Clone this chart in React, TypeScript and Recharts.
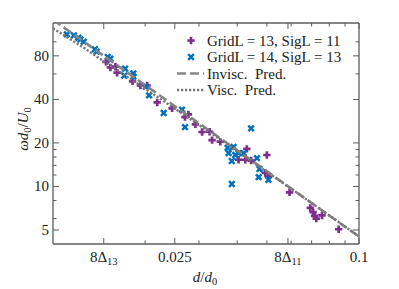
import React from "react";
import { ScatterChart, Scatter, XAxis, YAxis, ReferenceLine } from "recharts";

// GridL = 13, SigL = 11
const coarseD = [0.0149, 0.0154, 0.016, 0.0162, 0.0182, 0.0193, 0.0203, 0.0219, 0.0245, 0.027, 0.0277, 0.0292, 0.0307, 0.0325, 0.0331, 0.0352, 0.043, 0.0404, 0.0425, 0.0444, 0.05, 0.0494, 0.0506, 0.0593, 0.0693, 0.0708, 0.0716, 0.0725, 0.0757, 0.0858];
const coarseW = [72.8, 66.5, 67.3, 61.2, 53.3, 49.9, 49.9, 38.1, 34.7, 30.2, 31.5, 26.9, 23.8, 23.9, 20.9, 20.4, 18.2, 15.3, 15.3, 15.1, 16.5, 12.4, 11.7, 9.1, 7.1, 6.65, 6.25, 6.0, 6.3, 5.06];

// GridL = 14, SigL = 13
const fineD = [0.0111, 0.0117, 0.0121, 0.0123, 0.0126, 0.0137, 0.0139, 0.0151, 0.0154, 0.0172, 0.0171, 0.0183, 0.0183, 0.0201, 0.0206, 0.023, 0.0264, 0.027, 0.0372, 0.0389, 0.0375, 0.0394, 0.0384, 0.0404, 0.042, 0.0444, 0.0464, 0.0473, 0.047, 0.0506, 0.0384];
const fineW = [112.6, 110.9, 106.8, 104.1, 100.2, 88.9, 85.6, 78.7, 76.6, 65.2, 58.4, 60.5, 57.5, 49.1, 42.6, 32.2, 34.0, 25.7, 18.5, 18.8, 17.0, 16.5, 15.0, 17.0, 17.0, 25.2, 15.7, 13.2, 11.6, 11.1, 10.4];

// predictions
const inviscD = [0.01, 0.1];
const inviscW = [142, 4.5];
const viscD = [0.01, 0.0125, 0.015, 0.02, 0.025, 0.03, 0.04, 0.05, 0.06, 0.07, 0.08, 0.1];
const viscW = [124, 92, 71, 47.5, 34.5, 26.6, 17.5, 12.6, 9.65, 7.68, 6.3, 4.52];

// ticks
const xMajorTicks = [0.01465, 0.025, 0.0586, 0.1];
const xLabelMain = ["8Δ", "0.025", "8Δ", "0.1"];
const xLabelSub = ["13", "", "11", ""];
const xMinorTicks = [0.02, 0.03, 0.04, 0.05, 0.06, 0.07, 0.08, 0.09];
const yMajorTicks = [5, 10, 20, 40, 80];
const yMinorTicks = [6, 8, 12, 14, 16, 18, 60, 100];

const PURPLE = "#7E2F8E";
const BLUE = "#0072BD";
const GRAY = "#858585";
const DOT_GRAY = "#777";
const AXIS = "#5c5c5c";
const TEXT = "#222";
const FONT = "'Liberation Serif', 'DejaVu Serif', serif";

const W = 391;
const H = 281;
const PLOT_W = 306;
const PLOT_H = 221;

const toPts = (xs: number[], ys: number[]) => xs.map((x, i) => ({ x, y: ys[i] }));

const coarse = toPts(coarseD, coarseW);
const fine = toPts(fineD, fineW);
const invisc = toPts(inviscD, inviscW);
const visc = toPts(viscD, viscW);

function XTick(props: any) {
  const { x, y, payload } = props;
  const i = xMajorTicks.indexOf(payload.value);
  const len = i >= 0 ? 6 : 3.5;
  const top = y - PLOT_H;
  return (
    <g>
      <line x1={x} x2={x} y1={y} y2={y - len} stroke={AXIS} strokeWidth={1} />
      <line x1={x} x2={x} y1={top} y2={top + len} stroke={AXIS} strokeWidth={1} />
      {i >= 0 && (
        <text x={x} y={y + 18} textAnchor="middle" fontFamily={FONT} fontSize={15} fill={TEXT}>
          {xLabelMain[i]}
          {xLabelSub[i] && (
            <tspan fontSize={10.5} dy={3}>
              {xLabelSub[i]}
            </tspan>
          )}
        </text>
      )}
    </g>
  );
}

function YTick(props: any) {
  const { x, y, payload } = props;
  const major = yMajorTicks.indexOf(payload.value) >= 0;
  const len = major ? 6 : 3.5;
  const right = x + PLOT_W;
  return (
    <g>
      <line x1={x} x2={x + len} y1={y} y2={y} stroke={AXIS} strokeWidth={1} />
      <line x1={right} x2={right - len} y1={y} y2={y} stroke={AXIS} strokeWidth={1} />
      {major && (
        <text x={x - 4} y={y + 5} textAnchor="end" fontFamily={FONT} fontSize={15} fill={TEXT}>
          {payload.value}
        </text>
      )}
    </g>
  );
}

const Plus = ({ cx, cy }: any) => (
  <path d={`M${cx - 3.7},${cy}H${cx + 3.7}M${cx},${cy - 3.7}V${cy + 3.7}`} stroke={PURPLE} strokeWidth={2.7} />
);

const Cross = ({ cx, cy }: any) => (
  <path
    d={`M${cx - 2.8},${cy - 2.8}L${cx + 2.8},${cy + 2.8}M${cx - 2.8},${cy + 2.8}L${cx + 2.8},${cy - 2.8}`}
    stroke={BLUE}
    strokeWidth={2.5}
  />
);

const legendRows = [
  { label: "GridL = 13, SigL = 11", kind: "plus" },
  { label: "GridL = 14, SigL = 13", kind: "cross" },
  { label: "Invisc.  Pred.", kind: "dash" },
  { label: "Visc.  Pred.", kind: "dot" },
];

export default function App() {
  return (
    <div style={{ position: "relative", width: W, height: H }}>
      <ScatterChart width={W} height={H} margin={{ top: 15, right: 40, bottom: 0, left: 0 }}>
        <XAxis
          dataKey="x"
          type="number"
          scale="log"
          domain={[0.01, 0.1]}
          allowDataOverflow
          ticks={[...xMajorTicks, ...xMinorTicks]}
          interval={0}
          tickSize={0}
          tickMargin={0}
          height={45}
          axisLine={{ stroke: AXIS, strokeWidth: 1.3 }}
          tick={(p: any) => <XTick {...p} />}
        />
        <YAxis
          dataKey="y"
          type="number"
          scale="log"
          domain={[4, 135]}
          allowDataOverflow
          ticks={[...yMajorTicks, ...yMinorTicks]}
          interval={0}
          tickSize={0}
          tickMargin={0}
          width={45}
          axisLine={{ stroke: AXIS, strokeWidth: 1.3 }}
          tick={(p: any) => <YTick {...p} />}
        />
        <ReferenceLine y={135} stroke={AXIS} strokeWidth={1.3} />
        <ReferenceLine x={0.1} stroke={AXIS} strokeWidth={1.3} />
        <Scatter data={coarse} shape={Plus} isAnimationActive={false} />
        <Scatter data={fine} shape={Cross} isAnimationActive={false} />
        <Scatter
          data={invisc}
          shape={() => <g />}
          line={{ stroke: GRAY, strokeWidth: 2.6, strokeDasharray: "9 4" }}
          isAnimationActive={false}
        />
        <Scatter
          data={visc}
          shape={() => <g />}
          line={{ stroke: DOT_GRAY, strokeWidth: 2.4, strokeDasharray: "2.2 1.8" }}
          isAnimationActive={false}
        />
      </ScatterChart>
      <svg width={W} height={H} style={{ position: "absolute", left: 0, top: 0, pointerEvents: "none" }}>
        {legendRows.map((r, i) => {
          const cy = 32.5 + i * 16.5;
          const cx = 183;
          return (
            <g key={r.label}>
              {r.kind === "plus" && <Plus cx={cx} cy={cy} />}
              {r.kind === "cross" && <Cross cx={cx} cy={cy} />}
              {r.kind === "dash" && (
                <line x1={169} x2={196} y1={cy} y2={cy} stroke={GRAY} strokeWidth={2.6} strokeDasharray="9 4" />
              )}
              {r.kind === "dot" && (
                <line x1={169} x2={196} y1={cy} y2={cy} stroke={DOT_GRAY} strokeWidth={2.4} strokeDasharray="2.2 1.8" />
              )}
              <text x={199} y={cy + 5} fontFamily={FONT} fontSize={15} fill={TEXT} style={{ whiteSpace: "pre" }}>
                {r.label}
              </text>
            </g>
          );
        })}
        <text x={197} y={274} textAnchor="middle" fontFamily={FONT} fontSize={15} fill={TEXT}>
          <tspan fontStyle="italic">d</tspan>/<tspan fontStyle="italic">d</tspan>
          <tspan fontSize={10.5} dy={3}>0</tspan>
        </text>
        <text
          transform="translate(20,121) rotate(-90)"
          textAnchor="middle"
          fontFamily={FONT}
          fontSize={15}
          fill={TEXT}
        >
          <tspan fontStyle="italic">ωd</tspan>
          <tspan fontSize={10.5} dy={3}>0</tspan>
          <tspan dy={-3}>/</tspan>
          <tspan fontStyle="italic">U</tspan>
          <tspan fontSize={10.5} dy={3}>0</tspan>
        </text>
      </svg>
    </div>
  );
}
